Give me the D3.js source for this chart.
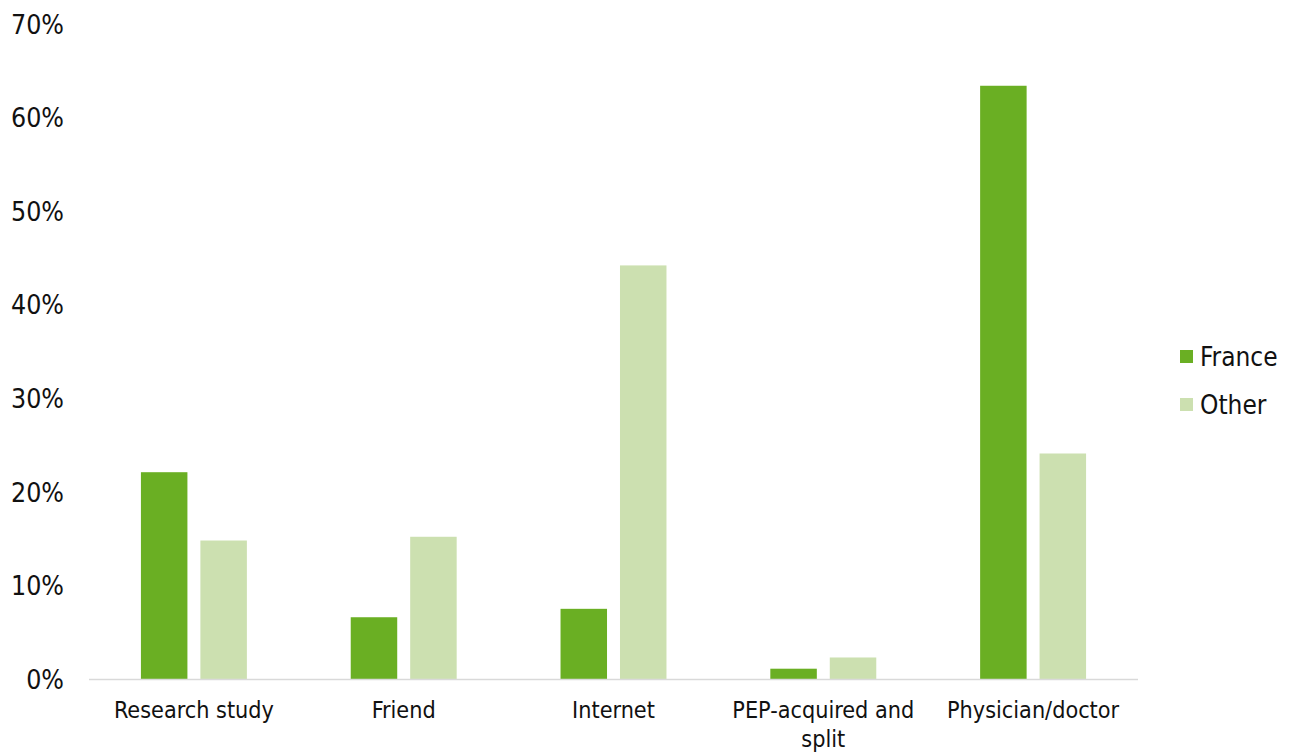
<!DOCTYPE html>
<html><head><meta charset="utf-8">
<script src="https://cdn.jsdelivr.net/npm/d3@7"></script>
<style>body{margin:0;background:#fff}svg{display:block}text{font-family:"DejaVu Sans Condensed","DejaVu Sans",sans-serif;fill:#111}</style>
</head><body>
<svg id="c" width="1298" height="753"></svg>
<script>
const categories = ["Research study","Friend","Internet","PEP-acquired and split","Physician/doctor"];
const categoryLines = [["Research study"],["Friend"],["Internet"],["PEP-acquired and","split"],["Physician/doctor"]];
const seriesNames = ["France","Other"];
const france = [22.1, 6.6, 7.5, 1.1, 63.4];
const other = [14.8, 15.2, 44.2, 2.3, 24.1];
const yTicks = [0,10,20,30,40,50,60,70];
const colors = ["#6aaf23","#cce0b0"];

const svg = d3.select("#c");
const x0 = d3.scaleBand().domain(categories).range([89,1138]).paddingInner(0.495).paddingOuter(0.2475);
const x1 = d3.scaleBand().domain(seriesNames).range([0,x0.bandwidth()]).paddingInner(0.218);
const y = d3.scaleLinear().domain([0,70]).range([679,24]);

const yAxis = d3.axisLeft(y).tickValues(yTicks).tickFormat(d=>d+"%").tickSize(0).tickPadding(0);
const gy = svg.append("g").attr("transform","translate(64,0)").call(yAxis);
gy.select(".domain").remove();
gy.selectAll("text").attr("font-size",26.5).attr("font-family","DejaVu Sans Condensed, DejaVu Sans, sans-serif").attr("fill","#111").attr("dy","0.35em");

const data = [france, other];
const g = svg.append("g");
categories.forEach((c,i)=>{
  seriesNames.forEach((s,j)=>{
    g.append("rect").attr("x",x0(c)+x1(s)).attr("width",x1.bandwidth())
      .attr("y",y(data[j][i])).attr("height",y(0)-y(data[j][i])).attr("fill",colors[j]);
  });
});

svg.append("line").attr("x1",89).attr("x2",1138).attr("y1",y(0)+0.5).attr("y2",y(0)+0.5).attr("stroke","#d9d9d9").attr("stroke-width",1.5);

categories.forEach((c,i)=>{
  const t = svg.append("text").attr("x",x0(c)+x0.bandwidth()/2).attr("y",718).attr("text-anchor","middle").attr("font-size",23.2);
  categoryLines[i].forEach((ln,k)=>{
    t.append("tspan").attr("x",x0(c)+x0.bandwidth()/2).attr("dy",k===0?0:29).text(ln);
  });
});

const lg = svg.append("g").attr("transform","translate(1180,350)");
seriesNames.forEach((s,j)=>{
  const r = lg.append("g").attr("transform",`translate(0,${j*48})`);
  r.append("rect").attr("width",13).attr("height",13).attr("fill",colors[j]);
  r.append("text").attr("x",20).attr("y",6.5).attr("dy","0.35em").attr("font-size",26).text(s);
});
</script>
</body></html>
